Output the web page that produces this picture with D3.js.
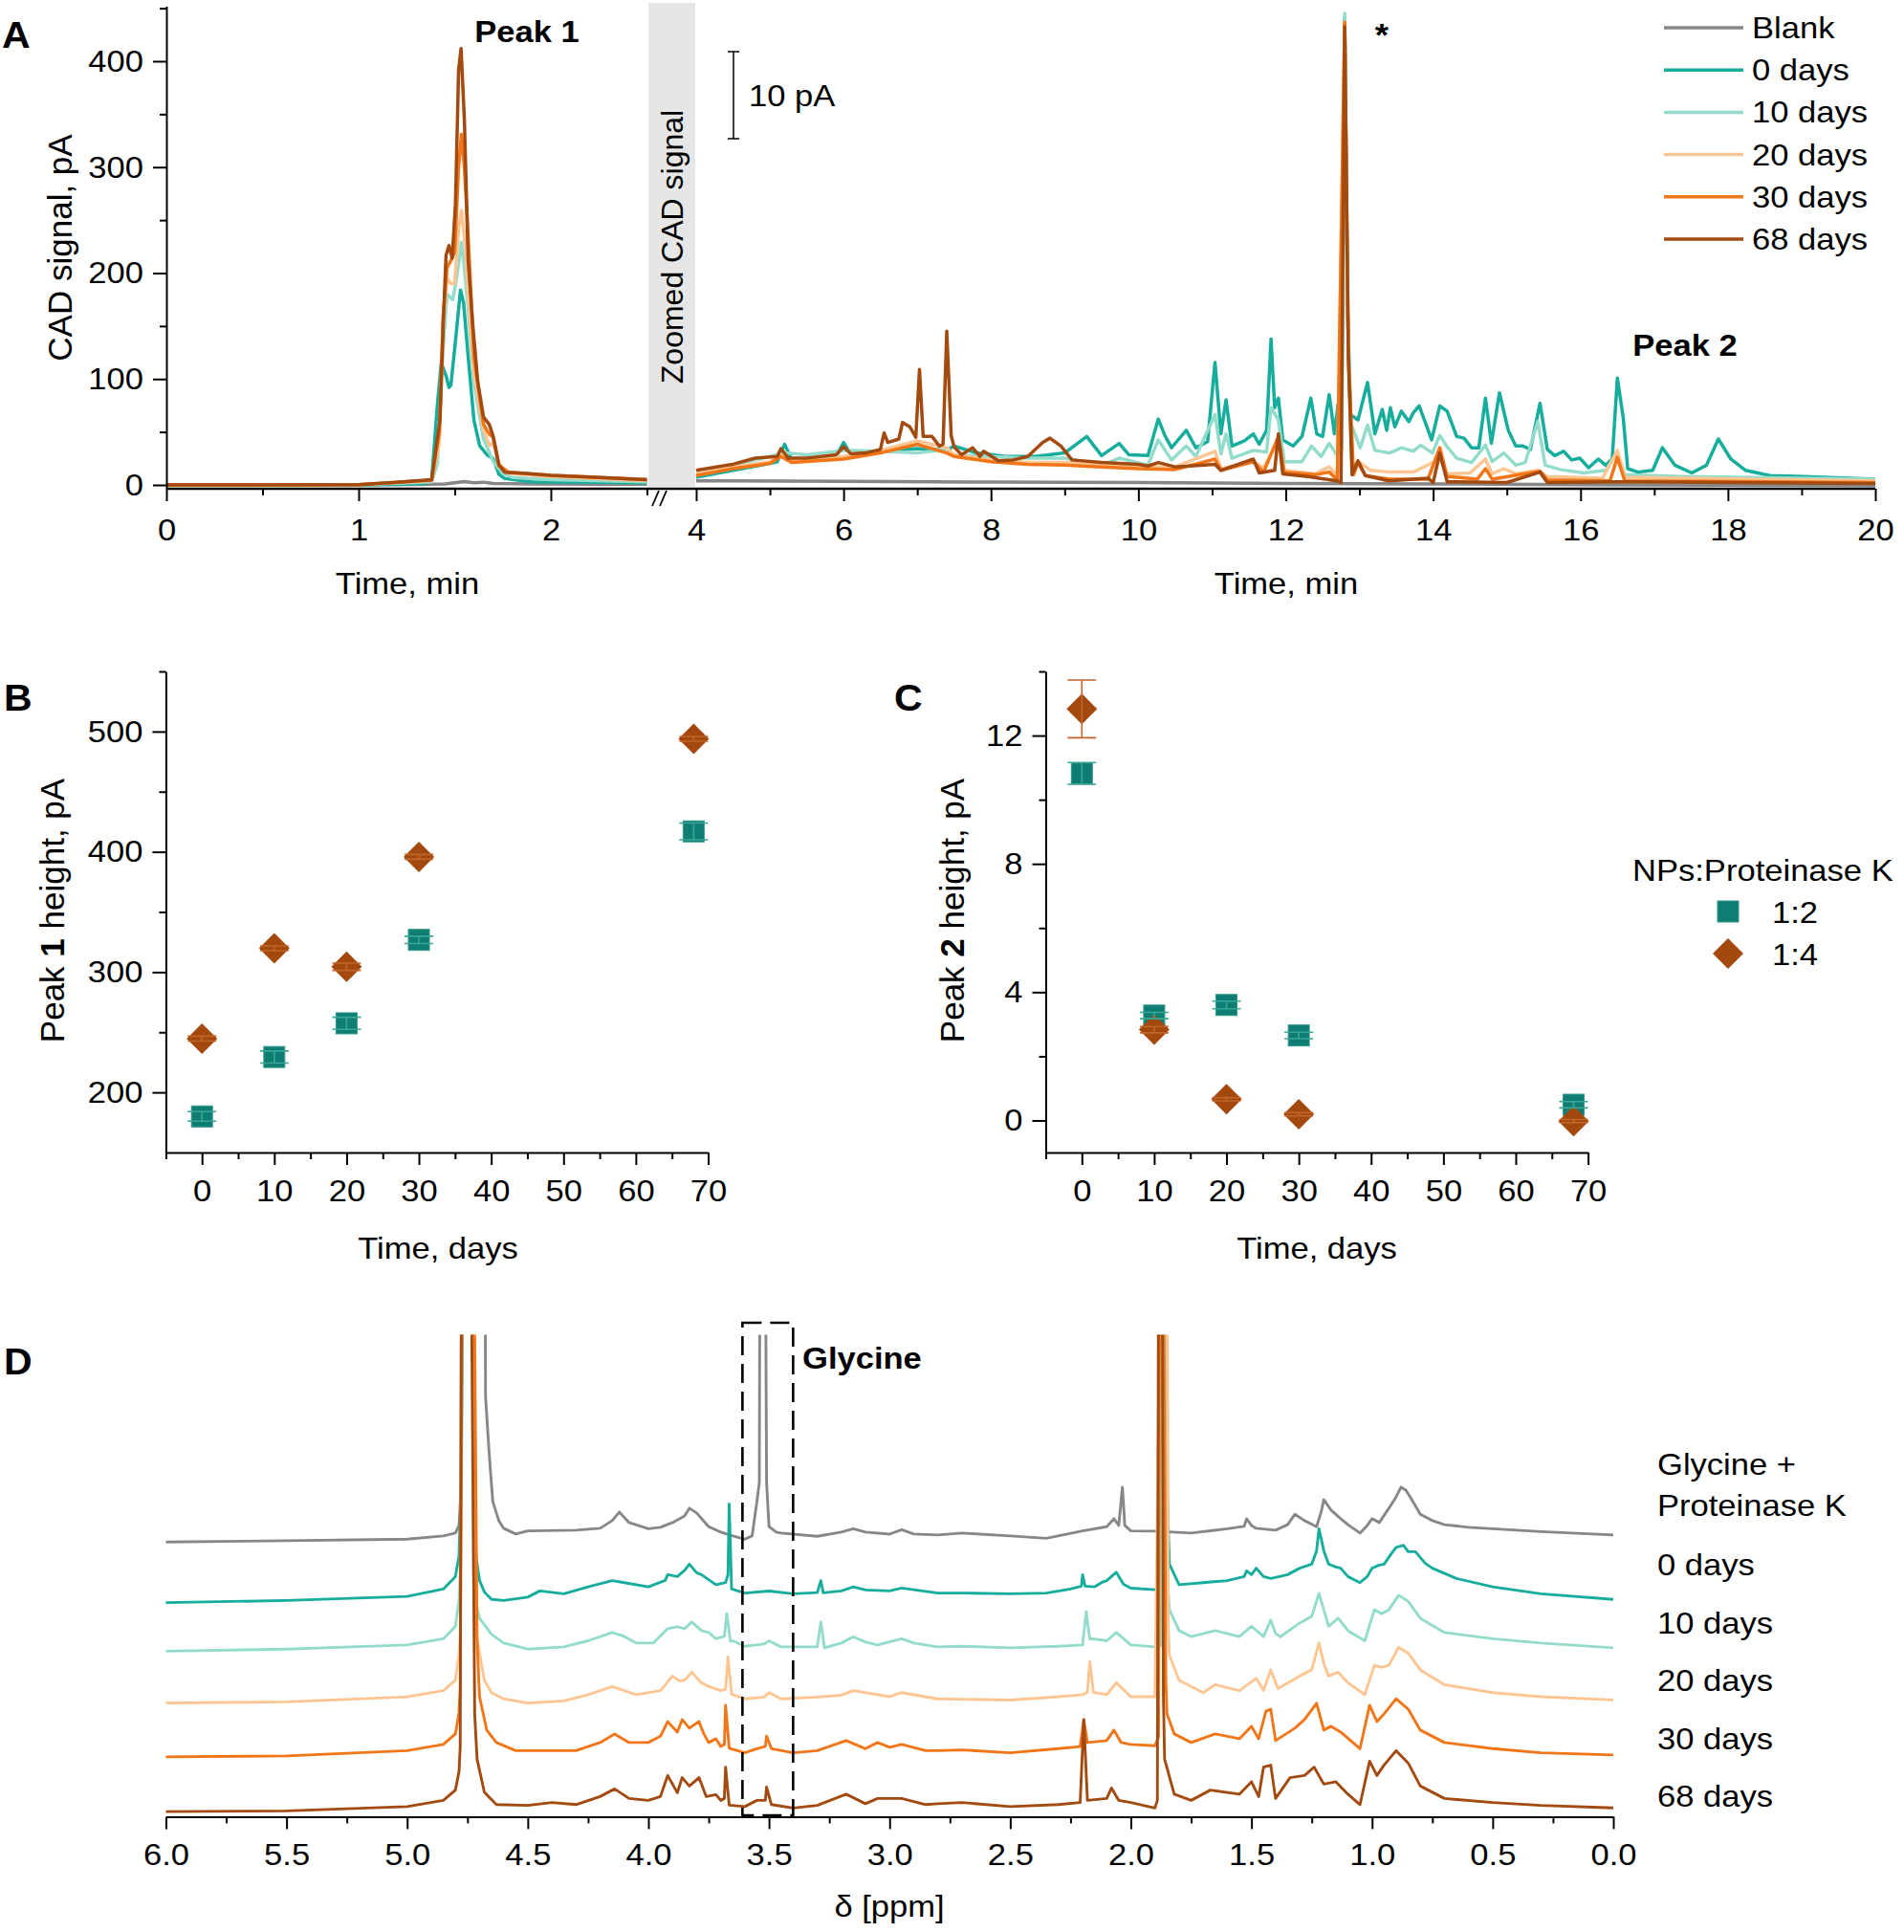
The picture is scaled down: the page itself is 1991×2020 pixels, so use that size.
<!DOCTYPE html>
<html>
<head>
<meta charset="utf-8">
<script src="https://cdn.jsdelivr.net/npm/d3@7"></script>
<style>body{margin:0;background:#fff}</style>
</head>
<body>
<script>
// ---------------- data ----------------
// panel A: CAD chromatograms, [time (min), signal]
// early part in pA, late part in "zoomed" pA (see 10 pA scale bar)
var cadNames = ["Blank", "0 days", "10 days", "20 days", "30 days", "68 days"];

var cadBlankEarly = [[0,0.2],[0.5,0.2],[1.0,0.3],[1.3,0.5],[1.45,1.0],[1.55,3.2],[1.6,2.0],[1.65,2.6],[1.7,1.4],[1.9,1.0],[2.2,0.8],[2.5,0.7]];
var cad0dEarly = [[0,0],[1.0,0],[1.2,0.5],[1.35,1.5],[1.38,5],[1.41,76],[1.43,115],[1.455,103],[1.47,92],[1.48,94],[1.504,136],[1.53,184],[1.546,172],[1.57,121],[1.6,61],[1.63,37],[1.67,28],[1.7,25],[1.73,10],[1.76,6],[1.9,3],[2.2,2.5],[2.5,2]];
var cad10dEarly = [[0,0],[1.0,0.2],[1.2,1.5],[1.38,3],[1.41,20],[1.44,130],[1.46,180],[1.49,175],[1.51,195],[1.535,229],[1.55,205],[1.57,166],[1.6,97],[1.65,43],[1.68,31],[1.7,22],[1.75,11],[1.8,7],[2.0,5],[2.5,3]];
var cad20dEarly = [[0,0],[1.0,0.3],[1.2,2],[1.38,4],[1.42,40],[1.44,150],[1.46,195],[1.48,190],[1.5,190],[1.52,241],[1.535,259],[1.55,235],[1.57,181],[1.6,106],[1.65,52],[1.68,37],[1.7,40],[1.73,20],[1.78,11],[2.0,8],[2.5,4]];
var cad30dEarly = [[0,0],[1.0,0.3],[1.2,2.5],[1.38,4.5],[1.42,50],[1.44,160],[1.46,205],[1.48,212],[1.5,220],[1.52,300],[1.535,331],[1.55,300],[1.57,235],[1.6,121],[1.65,57],[1.68,48],[1.7,45],[1.73,18],[1.78,12],[2.0,9],[2.5,5]];
var cad68dEarly = [[0,0],[1.0,0.3],[1.2,2.5],[1.38,5],[1.423,61],[1.44,151],[1.455,217],[1.47,226],[1.487,214],[1.504,266],[1.52,391],[1.533,412],[1.55,346],[1.57,212],[1.594,151],[1.62,97],[1.65,64],[1.68,57],[1.7,46],[1.73,19],[1.76,12],[1.85,11],[2.0,9],[2.26,7],[2.5,5]];

var cadBlankLate = [[4,0.8],[6,0.75],[8,0.65],[10,0.6],[12,0.5],[14,0.45],[16,0.35],[18,0.3],[20,0.25]];
var cad0dLate = [[4,1.2],[4.5,2.0],[5.0,2.8],[5.1,3],[5.2,5],[5.3,3.2],[5.6,3.2],[5.9,3.6],[6.0,5.2],[6.1,3.8],[6.5,4.2],[7.0,4.5],[7.4,4.3],[7.5,4.8],[7.8,4.0],[8.2,3.6],[8.6,3.6],[9.0,4.0],[9.3,5.9],[9.5,3.7],[9.74,5.1],[9.87,3.8],[10.13,3.7],[10.27,7.9],[10.36,6.0],[10.45,4.6],[10.65,6.6],[10.78,4.6],[10.94,5.3],[11.04,14.4],[11.12,6.2],[11.19,10.1],[11.27,4.8],[11.44,5.4],[11.56,6.2],[11.64,5.0],[11.74,6.6],[11.8,17.1],[11.85,9.2],[11.9,10.3],[11.96,5.5],[12.1,4.8],[12.22,5.9],[12.34,10.3],[12.42,6.2],[12.5,5.9],[12.59,10.7],[12.66,6.2],[12.71,9.6],[12.76,8],[12.8,54],[12.84,20],[12.88,8.4],[12.98,7.8],[13.11,12.1],[13.21,6.2],[13.31,9.0],[13.37,6.6],[13.42,9.2],[13.48,7.0],[13.57,8.8],[13.67,7.6],[13.73,8.6],[13.81,9.4],[13.89,7.6],[13.98,5.5],[14.09,9.4],[14.19,8.8],[14.32,5.9],[14.42,5.7],[14.52,4.6],[14.62,4.6],[14.71,10.3],[14.79,5.1],[14.9,10.9],[15.02,6.6],[15.12,4.8],[15.22,4.8],[15.32,4.4],[15.45,9.7],[15.55,4.4],[15.65,3.7],[15.77,4.2],[15.88,3.2],[15.99,3.4],[16.11,2.3],[16.24,3.3],[16.34,2.6],[16.43,3.3],[16.5,12.6],[16.58,8],[16.64,2.2],[16.78,1.8],[16.98,2.0],[17.11,4.6],[17.28,2.6],[17.51,1.7],[17.71,2.6],[17.87,5.6],[18.04,3.3],[18.24,2.0],[18.57,1.4],[19.03,1.3],[20,1.0]];
var cad10dLate = [[4,1.5],[4.5,2.6],[5.0,3.6],[5.2,4.0],[5.5,3.8],[6.0,4.3],[6.5,4.2],[7.0,4.0],[7.4,4.4],[7.5,3.8],[8.0,3.6],[8.5,3.4],[9.0,3.4],[9.5,2.6],[9.74,3.4],[10.13,2.6],[10.27,5.5],[10.45,3.2],[10.65,4.8],[10.78,3.6],[11.04,8.4],[11.12,3.9],[11.19,6.2],[11.27,3.4],[11.56,4.3],[11.74,4.1],[11.8,9.2],[11.9,7.8],[11.98,3.0],[12.22,3.0],[12.35,4.8],[12.48,3.6],[12.59,5.1],[12.69,3.8],[12.76,4.5],[12.8,54.5],[12.84,20],[12.88,7.5],[13.01,4.6],[13.11,7.2],[13.21,4.3],[13.41,4.0],[13.57,4.6],[13.73,4.2],[13.83,4.9],[13.99,4.0],[14.09,6.0],[14.19,4.7],[14.32,3.4],[14.52,2.9],[14.71,4.9],[14.8,3.0],[14.96,4.0],[15.12,2.6],[15.25,2.9],[15.42,7.6],[15.52,2.6],[15.72,2.1],[16.04,1.7],[16.34,2.0],[16.5,4.0],[16.6,1.5],[17.37,1.3],[20,1.0]];
var cad20dLate = [[4,1.6],[4.5,2.4],[5.0,3.0],[5.15,3.8],[5.3,3.1],[6.0,3.6],[6.5,4.3],[7.0,5.4],[7.4,4.6],[7.5,3.8],[8.0,3.2],[8.5,2.9],[9.0,2.9],[9.5,2.6],[10.0,2.4],[10.5,2.4],[11.04,4.2],[11.12,2.2],[11.56,3.0],[11.7,2.3],[11.9,5.5],[11.98,2.0],[12.4,1.6],[12.59,2.4],[12.7,1.4],[12.8,53.5],[12.85,15],[12.9,2.6],[13.01,2.9],[13.15,2.0],[13.41,1.8],[13.73,1.8],[14.09,3.3],[14.19,1.6],[14.5,1.7],[14.71,3.3],[14.8,1.6],[14.96,2.2],[15.12,1.6],[15.42,2.0],[15.55,1.3],[16.3,1.1],[16.5,4.3],[16.6,1.2],[20,0.8]];
var cad30dLate = [[4,1.4],[4.5,2.2],[5.0,2.8],[5.15,3.6],[5.3,2.9],[6.0,3.3],[6.5,4.0],[7.0,5.0],[7.4,4.0],[7.5,3.6],[8.0,3.0],[8.5,2.7],[9.0,2.6],[9.5,2.4],[10.0,2.2],[10.5,2.1],[11.04,3.3],[11.12,2.0],[11.56,3.0],[11.7,1.8],[11.9,5.9],[11.98,1.8],[12.4,1.5],[12.59,1.8],[12.7,0.9],[12.8,53.5],[12.85,15],[12.92,1.5],[12.98,2.9],[13.08,1.4],[13.41,1.0],[13.93,1.0],[14.09,4.6],[14.19,1.3],[14.6,1.0],[14.71,2.2],[14.8,1.0],[15.45,1.9],[15.55,0.9],[16.4,0.8],[16.5,3.5],[16.6,0.8],[20,0.6]];
var cad68dLate = [[4,2.0],[4.5,2.7],[4.8,3.4],[5.1,3.6],[5.15,4.5],[5.25,3.4],[5.5,3.4],[5.9,3.8],[6.0,4.7],[6.1,3.9],[6.3,4.0],[6.5,4.4],[6.55,6.3],[6.6,5.2],[6.75,5.6],[6.8,7.5],[6.9,7.0],[6.98,5.8],[7.03,13.6],[7.08,5.9],[7.2,5.9],[7.3,4.8],[7.35,5.0],[7.4,18],[7.46,6],[7.5,4.7],[7.6,3.8],[7.75,4.6],[7.85,3.6],[7.9,4.2],[8.1,3.1],[8.3,3.2],[8.5,3.6],[8.7,5.2],[8.8,5.7],[8.95,4.8],[9.1,3.2],[9.5,2.9],[10.0,2.7],[10.13,2.5],[10.27,2.9],[10.5,2.4],[11.04,2.7],[11.12,2.0],[11.56,3.3],[11.64,1.7],[11.85,2.0],[11.9,6.2],[11.96,1.6],[12.3,1.3],[12.69,0.8],[12.75,0.6],[12.8,53],[12.85,15],[12.9,1.5],[12.98,3.1],[13.08,1.4],[13.4,0.8],[13.93,1.1],[14.0,0.6],[14.09,4.0],[14.19,0.7],[15.0,0.6],[15.45,1.8],[15.55,0.6],[16.5,0.7],[20,0.5]];

// panels B and C: peak heights vs time
var days = [0, 10, 20, 30, 68];
var peak1Ratio12 = [180, 229.4, 257.4, 326.8, 417];
var peak1Ratio12Err = [4, 5, 5, 3, 7];
var peak1Ratio14 = [244.7, 319.8, 304.4, 395.8, 493.9];
var peak1Ratio14Err = [2, 2, 3, 2, 2];
var peak2Ratio12 = [10.82, 3.27, 3.6, 2.65, 0.49];
var peak2Ratio12Err = [0.34, 0.1, 0.12, 0.1, 0.1];
var peak2Ratio14 = [12.83, 2.83, 0.66, 0.19, -0.02];
var peak2Ratio14Err = [0.9, 0.1, 0.05, 0.05, 0.05];
var ratioNames = ["1:2", "1:4"];

// panel D: 1H NMR spectra, [ppm, intensity above own baseline (a.u.)]
var nmrNames = ["0 days", "10 days", "20 days", "30 days", "68 days"];
var nmrBlank = [[6.0,-2.4],[5.5,-1],[5.0,0.6],[4.85,4],[4.8,7],[4.785,15],[4.775,60],[4.77,600],[4.68,600],[4.675,150],[4.66,90],[4.645,40],[4.62,20],[4.6,12],[4.55,6],[4.5,9.3],[4.3,10],[4.2,12],[4.15,20],[4.12,29],[4.08,18],[4.0,11.5],[3.95,13],[3.9,18],[3.85,25],[3.83,33],[3.8,28],[3.75,13.7],[3.7,8],[3.65,4],[3.6,0.6],[3.57,4],[3.55,40],[3.54,60],[3.535,600],[3.52,600],[3.51,60],[3.5,13.7],[3.47,8],[3.45,7],[3.3,3.7],[3.2,8],[3.15,11.5],[3.1,8],[3.0,5.9],[2.95,10.6],[2.9,6],[2.8,5],[2.7,7],[2.5,4],[2.35,1.5],[2.2,9.3],[2.1,13.7],[2.07,22],[2.05,15],[2.035,55],[2.025,15],[2.0,9.3],[1.9,9],[1.75,7],[1.6,11.5],[1.53,14],[1.52,22],[1.5,15],[1.48,12],[1.4,10],[1.35,15.8],[1.32,26.7],[1.28,20],[1.23,13.7],[1.21,30],[1.2,42],[1.17,31],[1.13,22],[1.1,15.8],[1.05,7],[1.02,15],[1.0,22],[0.97,18],[0.93,33],[0.9,45],[0.88,55],[0.86,52],[0.84,44],[0.8,26.7],[0.75,20],[0.7,15.8],[0.6,13],[0.5,11.5],[0.3,8.5],[0.0,5]];
var nmr0d = [[6.0,-9.2],[5.5,-7],[5.0,-2.7],[4.85,5],[4.8,18],[4.785,40],[4.775,120],[4.765,600],[4.735,600],[4.725,120],[4.715,40],[4.7,14],[4.68,2],[4.65,-5.8],[4.6,-7],[4.5,-3.5],[4.45,3],[4.35,0],[4.25,7.3],[4.15,13.8],[4.1,11.7],[4.0,7.3],[3.93,14],[3.92,20],[3.88,18],[3.85,24.6],[3.83,31],[3.8,22],[3.78,20],[3.72,9.5],[3.68,11.7],[3.67,20],[3.665,94],[3.655,5],[3.6,0.8],[3.5,2.9],[3.4,0],[3.3,1.3],[3.285,13.8],[3.275,1],[3.2,3],[3.15,7.3],[3.1,4],[3.0,3],[2.95,6],[2.8,0.8],[2.7,0.8],[2.5,0],[2.35,0.8],[2.25,5],[2.205,8],[2.2,20],[2.19,8],[2.15,7.3],[2.12,12],[2.1,13.8],[2.06,22.5],[2.03,10],[2.0,5.9],[1.9,4.3],[1.87,4],[1.855,20],[1.85,118],[1.845,70],[1.84,31],[1.8,9.5],[1.7,11.7],[1.6,13.8],[1.53,18],[1.52,24],[1.5,20],[1.48,26.8],[1.45,18],[1.42,16],[1.35,20],[1.3,26.8],[1.25,31],[1.23,45],[1.22,68],[1.2,45],[1.18,31],[1.15,28],[1.13,26.8],[1.1,18],[1.05,11.7],[1.02,18],[1.0,26.8],[0.97,30],[0.95,31],[0.92,42],[0.9,48.5],[0.87,50.7],[0.85,44],[0.82,44],[0.78,32],[0.75,26.8],[0.65,16],[0.5,7.3],[0.3,0],[0.0,-5.8]];
var nmr10d = [[6.0,-3.5],[5.5,-1.3],[5.0,3],[4.85,9.5],[4.8,22.5],[4.785,50],[4.78,79],[4.77,600],[4.735,600],[4.725,80],[4.72,53],[4.7,31],[4.65,14],[4.6,5],[4.5,-1.3],[4.35,1],[4.25,7.4],[4.15,16],[4.1,12],[4.05,5],[3.98,5],[3.92,20],[3.88,22],[3.85,20],[3.82,27],[3.78,18],[3.75,16],[3.72,9.5],[3.685,12],[3.675,35.6],[3.66,7],[3.65,7.4],[3.6,1.7],[3.52,4],[3.5,7.4],[3.45,1],[3.3,1],[3.285,27],[3.27,0],[3.2,5],[3.15,11.7],[3.1,6],[3.05,3],[2.95,9.5],[2.9,5],[2.8,1],[2.7,1.7],[2.5,0],[2.3,1.7],[2.2,3],[2.185,37.7],[2.17,9],[2.16,9.5],[2.1,7.4],[2.06,16],[2.0,3],[1.9,1],[1.875,2],[1.87,600],[1.855,600],[1.85,80],[1.84,40],[1.8,18],[1.75,11.7],[1.65,18],[1.55,11.7],[1.5,22.5],[1.45,11.7],[1.42,29],[1.4,15],[1.38,11.7],[1.3,26],[1.25,33],[1.22,57],[1.2,40],[1.18,22.5],[1.14,31],[1.1,18],[1.03,7.4],[0.99,40],[0.96,35.6],[0.93,40],[0.89,55],[0.85,48.6],[0.8,31],[0.7,16],[0.5,9.5],[0.3,5],[0.0,0]];
var nmr20d = [[6.0,-1.2],[5.5,0],[5.0,5.3],[4.85,11.8],[4.8,22.7],[4.785,50],[4.78,70],[4.77,600],[4.73,600],[4.72,100],[4.71,66],[4.68,22.7],[4.65,9.7],[4.6,3.2],[4.5,-1.2],[4.35,1],[4.25,7.5],[4.15,16],[4.05,7.5],[3.95,11.8],[3.9,27],[3.87,22],[3.85,22.7],[3.82,31],[3.78,20],[3.75,16],[3.7,11.8],[3.68,13],[3.67,47],[3.655,8],[3.65,7.5],[3.6,3.2],[3.52,5],[3.5,9.7],[3.45,3.2],[3.3,5],[3.28,5.4],[3.2,7],[3.15,11.8],[3.0,5.4],[2.95,9.7],[2.8,3.2],[2.5,1.9],[2.3,5.4],[2.2,7.5],[2.18,10],[2.17,42],[2.155,10],[2.1,7.5],[2.06,20],[2.0,5.4],[1.9,5.4],[1.87,600],[1.85,600],[1.845,80],[1.84,48.7],[1.8,22.7],[1.7,9.7],[1.65,18],[1.55,11.8],[1.48,24.6],[1.45,11.8],[1.42,33.5],[1.39,14],[1.3,27],[1.25,33.5],[1.22,61.7],[1.2,40],[1.18,27],[1.14,31],[1.1,20],[1.03,7.5],[0.99,38.3],[0.96,36],[0.93,38.3],[0.89,57],[0.85,51],[0.8,33.5],[0.7,18],[0.5,9.7],[0.3,5.4],[0.0,2]];
var nmr30d = [[6.0,-1],[5.5,0],[5.0,5.5],[4.85,12],[4.8,23],[4.785,45],[4.78,70],[4.77,600],[4.725,600],[4.71,120],[4.7,62],[4.67,27],[4.63,14],[4.55,5.5],[4.4,5.5],[4.3,5.5],[4.2,14],[4.14,23],[4.08,14],[4.0,14],[3.95,20.6],[3.92,35.8],[3.88,25],[3.86,38],[3.83,29],[3.79,36],[3.77,23],[3.75,14],[3.72,18],[3.7,10],[3.685,12],[3.68,53],[3.665,8],[3.6,3.3],[3.55,7.6],[3.515,10],[3.51,20.6],[3.49,7.6],[3.4,3.3],[3.3,5.5],[3.18,16],[3.1,7.6],[3.05,14],[3.0,9],[2.95,12],[2.85,5.5],[2.8,5.5],[2.7,6.3],[2.5,3.3],[2.3,7.6],[2.21,9.8],[2.195,38],[2.18,14],[2.1,16],[2.07,27],[2.04,14],[2.0,12],[1.9,10.6],[1.885,20],[1.88,600],[1.865,600],[1.855,80],[1.85,44],[1.82,23],[1.75,14],[1.65,23],[1.55,18],[1.5,31],[1.47,18],[1.44,46.7],[1.42,48.8],[1.4,16],[1.32,29],[1.28,38],[1.23,55],[1.2,27],[1.17,31],[1.13,25],[1.05,7.6],[1.01,53],[0.98,36],[0.95,44],[0.9,59.7],[0.85,48.8],[0.8,27],[0.7,14],[0.5,7.6],[0.3,3.3],[0.0,1]];
var nmr68d = [[6.0,-1.7],[5.5,-1],[5.0,3.5],[4.85,10],[4.8,20.8],[4.785,40],[4.78,66],[4.775,600],[4.735,600],[4.72,100],[4.71,53],[4.68,18.6],[4.63,5.6],[4.5,4.8],[4.4,7.8],[4.3,5.6],[4.2,14],[4.14,22],[4.08,12],[4.0,10],[3.95,14],[3.92,36],[3.88,18],[3.86,33.8],[3.83,25],[3.79,33.8],[3.76,14],[3.72,16],[3.7,10],[3.685,12],[3.68,44.7],[3.665,5],[3.6,3.5],[3.55,10],[3.515,10],[3.51,23.9],[3.49,5.6],[3.4,2],[3.3,4.8],[3.18,16.5],[3.1,6.5],[3.05,12],[2.95,12],[2.85,5.6],[2.8,6.5],[2.7,7.8],[2.5,3.5],[2.3,5.6],[2.21,7.8],[2.195,94.5],[2.18,10],[2.1,12],[2.08,23],[2.05,10],[2.0,7.8],[1.9,2],[1.89,10],[1.885,600],[1.87,600],[1.865,120],[1.86,53],[1.82,16.5],[1.75,10],[1.67,20.8],[1.55,16.5],[1.5,29.5],[1.47,14],[1.45,44.7],[1.42,46.8],[1.4,12],[1.34,33.8],[1.28,36],[1.24,44.7],[1.2,27],[1.15,29.5],[1.1,16.5],[1.05,5.6],[1.01,51],[0.98,36],[0.95,47],[0.9,62],[0.85,49],[0.8,25],[0.7,12],[0.5,7.8],[0.3,4.8],[0.0,2.2]];
var glycineRange = [3.61, 3.40];

// ---------------- styles ----------------
var colors = ["#878787", "#17ad9d", "#93dccb", "#fdc592", "#f27518", "#a24a10"];
var squareColor = "#0f7d73", diamondColor = "#a3490e";
var FONT = "'Liberation Sans', Arial, Helvetica, sans-serif";
var SX = 1.08;   // text in the figure is slightly wide

var svg = d3.select("body").append("svg")
    .attr("width", 1991).attr("height", 2020)
    .style("background", "#fff");

function label(g, x, y, s, o) {
  o = o || {};
  return g.append("text")
      .attr("transform", "translate(" + x + "," + y + ")" + (o.rotate ? " rotate(" + o.rotate + ")" : " scale(" + SX + ",1)"))
      .attr("font-family", FONT)
      .attr("font-size", o.size || 32)
      .attr("font-weight", o.bold ? "bold" : null)
      .attr("text-anchor", o.anchor || "start")
      .text(s);
}

function styleAxis(a) {
  a.selectAll("line, path").attr("stroke", "#000").attr("stroke-width", 2);
  a.selectAll("text").attr("font-family", FONT).attr("font-size", 32).attr("fill", "#000");
}

function bottomAxis(scale, y, major, minor, pad, fmt, keepDomain) {
  var a = svg.append("g").attr("transform", "translate(0," + y + ")")
      .call(d3.axisBottom(scale).tickValues(major).tickSize(13).tickPadding(pad).tickSizeOuter(0).tickFormat(fmt));
  if (!keepDomain) a.select(".domain").remove();
  styleAxis(a);
  a.selectAll("text").attr("transform", "scale(" + SX + ",1)");
  var m = svg.append("g").attr("transform", "translate(0," + y + ")")
      .call(d3.axisBottom(scale).tickValues(minor).tickSize(7).tickFormat(""));
  m.select(".domain").remove();
  styleAxis(m);
}

function leftAxis(scale, x, major, minor) {
  var a = svg.append("g").attr("transform", "translate(" + x + ",0)")
      .call(d3.axisLeft(scale).tickValues(major).tickSize(14).tickSizeOuter(0));
  styleAxis(a);
  a.selectAll("text").attr("x", -24 / SX).attr("transform", "scale(" + SX + ",1)");
  var m = svg.append("g").attr("transform", "translate(" + x + ",0)")
      .call(d3.axisLeft(scale).tickValues(minor).tickSize(7).tickFormat(""));
  m.select(".domain").remove();
  styleAxis(m);
}

// ---------------- panel A ----------------
var xEarly = d3.scaleLinear().domain([0, 2.5]).range([174, 676.5]);
var xLate = d3.scaleLinear().domain([4, 20]).range([728, 1961]);
var yA = d3.scaleLinear().domain([-3.6, 452]).range([511, 6.4]);
var yZoom = d3.scaleLinear().domain([0, 10]).range([510, 419]);

svg.append("rect").attr("x", 678).attr("y", 3).attr("width", 49).attr("height", 506).attr("fill", "#e6e6e6");
label(svg, 714, 258, "Zoomed CAD signal", {rotate: -90, anchor: "middle", size: 32});

var cadEarly = [cadBlankEarly, cad0dEarly, cad10dEarly, cad20dEarly, cad30dEarly, cad68dEarly];
var cadLate = [cadBlankLate, cad0dLate, cad10dLate, cad20dLate, cad30dLate, cad68dLate];
var lineEarly = d3.line().x(function(d) { return xEarly(d[0]); }).y(function(d) { return yA(d[1]); });
var lineLate = d3.line().x(function(d) { return xLate(d[0]); }).y(function(d) { return yZoom(d[1]); });

var gA = svg.append("g").attr("fill", "none").attr("stroke-width", 3.5).attr("stroke-linejoin", "round");
cadNames.forEach(function(n, i) {
  gA.append("path").attr("d", lineEarly(cadEarly[i])).attr("stroke", colors[i]);
  gA.append("path").attr("d", lineLate(cadLate[i])).attr("stroke", colors[i]);
});

// axes
svg.append("line").attr("x1", 174).attr("x2", 1961).attr("y1", 511).attr("y2", 511)
    .attr("stroke", "#000").attr("stroke-width", 2.5);
bottomAxis(xEarly, 511, [0, 1, 2], [0.5, 1.5, 2.5], 18, d3.format("d"));
bottomAxis(xLate, 511, d3.range(4, 21, 2), d3.range(5, 20, 2), 18, d3.format("d"));
leftAxis(yA, 174, [0, 100, 200, 300, 400], [50, 150, 250, 350, 450]);
// axis break
svg.append("path").attr("d", "M682,529L689,513M690,529L697,513").attr("stroke", "#000").attr("stroke-width", 1.8);

label(svg, 426, 621, "Time, min", {anchor: "middle"});
label(svg, 1345, 621, "Time, min", {anchor: "middle"});
label(svg, 75, 259, "CAD signal, pA", {rotate: -90, anchor: "middle", size: 35});
label(svg, 2, 50, "A", {bold: true, size: 38});
label(svg, 551, 44, "Peak 1", {bold: true, anchor: "middle"});
label(svg, 1762, 372, "Peak 2", {bold: true, anchor: "middle"});
label(svg, 1445, 48, "*", {bold: true, anchor: "middle", size: 34});

// 10 pA scale bar
var barTop = 54, barLen = yZoom(0) - yZoom(10);
svg.append("path")
    .attr("d", "M761," + barTop + "H773M767," + barTop + "V" + (barTop + barLen) + "M761," + (barTop + barLen) + "H773")
    .attr("stroke", "#000").attr("stroke-width", 1.5).attr("fill", "none");
label(svg, 783, 111, "10 pA");

// legend
cadNames.forEach(function(n, i) {
  var cy = 29 + i * 44.2;
  svg.append("line").attr("x1", 1740).attr("x2", 1823).attr("y1", cy).attr("y2", cy)
      .attr("stroke", colors[i]).attr("stroke-width", 3.5);
  label(svg, 1832, cy + 11, n);
});

// ---------------- panels B and C ----------------
function diamondPath(r) { return "M0," + (-r) + "L" + r + ",0L0," + r + "L" + (-r) + ",0Z"; }

function scatterPanel(x, y, v12, e12, v14, e14) {
  var g = svg.append("g");
  days.forEach(function(d, i) {
    g.append("rect").attr("x", x(d) - 11).attr("y", y(v12[i]) - 11).attr("width", 22).attr("height", 22)
        .attr("fill", squareColor).attr("stroke", "#2f9a8c").attr("stroke-width", 1);
    g.append("path").attr("d", diamondPath(16)).attr("transform", "translate(" + x(d) + "," + y(v14[i]) + ")")
        .attr("fill", diamondColor);
  });
  [[v12, e12, "#3aa595"], [v14, e14, "#c0652b"]].forEach(function(s) {
    days.forEach(function(d, i) {
      var y0 = y(s[0][i] - s[1][i]), y1 = y(s[0][i] + s[1][i]), cx = x(d);
      g.append("path").attr("d", "M" + cx + "," + y0 + "V" + y1 + "M" + (cx - 15) + "," + y0 + "H" + (cx + 15) + "M" + (cx - 15) + "," + y1 + "H" + (cx + 15))
          .attr("stroke", s[2]).attr("stroke-width", 1.6).attr("fill", "none");
    });
  });
}

var xB = d3.scaleLinear().domain([-5, 70]).range([173.4, 740.5]);
var yB = d3.scaleLinear().domain([150, 550]).range([1205, 702]);
bottomAxis(xB, 1205, d3.range(0, 71, 10), d3.range(-5, 70, 10), 15, d3.format("d"), true);
leftAxis(yB, 173.4, [200, 300, 400, 500], [250, 350, 450, 550]);
scatterPanel(xB, yB, peak1Ratio12, peak1Ratio12Err, peak1Ratio14, peak1Ratio14Err);
label(svg, 458, 1316, "Time, days", {anchor: "middle"});
var tB = svg.append("text").attr("transform", "translate(67,952) rotate(-90)")
    .attr("font-family", FONT).attr("font-size", 35).attr("text-anchor", "middle");
tB.append("tspan").text("Peak ");
tB.append("tspan").attr("font-weight", "bold").text("1");
tB.append("tspan").text(" height, pA");
label(svg, 4, 743, "B", {bold: true, size: 38});

var xC = d3.scaleLinear().domain([-5, 70]).range([1093.5, 1660.6]);
var yC = d3.scaleLinear().domain([-1, 14]).range([1205, 702]);
bottomAxis(xC, 1205, d3.range(0, 71, 10), d3.range(-5, 70, 10), 15, d3.format("d"), true);
leftAxis(yC, 1093.5, [0, 4, 8, 12], [2, 6, 10, 14]);
scatterPanel(xC, yC, peak2Ratio12, peak2Ratio12Err, peak2Ratio14, peak2Ratio14Err);
label(svg, 1377, 1316, "Time, days", {anchor: "middle"});
var tC = svg.append("text").attr("transform", "translate(1008,952) rotate(-90)")
    .attr("font-family", FONT).attr("font-size", 35).attr("text-anchor", "middle");
tC.append("tspan").text("Peak ");
tC.append("tspan").attr("font-weight", "bold").text("2");
tC.append("tspan").text(" height, pA");
label(svg, 935, 743, "C", {bold: true, size: 38});

// legend for B/C
label(svg, 1707, 921, "NPs:Proteinase K");
svg.append("rect").attr("x", 1796).attr("y", 942).attr("width", 22).attr("height", 22)
    .attr("fill", squareColor).attr("stroke", "#2f9a8c").attr("stroke-width", 1);
label(svg, 1853, 965, ratioNames[0]);
svg.append("path").attr("d", diamondPath(16)).attr("transform", "translate(1807,997)").attr("fill", diamondColor);
label(svg, 1853, 1009, ratioNames[1]);

// ---------------- panel D ----------------
var xD = d3.scaleLinear().domain([6, 0]).range([173.5, 1687]);
var yD = d3.scaleLinear().domain([0, 500]).range([1899.4, 1399.4]);
var stackStep = 56.5, stackBase = 7;

svg.append("clipPath").attr("id", "clipD").append("rect")
    .attr("x", 160).attr("y", 1395.5).attr("width", 1540).attr("height", 505);

var spectra = [nmrBlank, nmr0d, nmr10d, nmr20d, nmr30d, nmr68d];
var gD = svg.append("g").attr("clip-path", "url(#clipD)").attr("fill", "none")
    .attr("stroke-width", 2.9).attr("stroke-linejoin", "round");
spectra.forEach(function(s, i) {
  var off = stackBase + (spectra.length - 1 - i) * stackStep;
  var line = d3.line().x(function(d) { return xD(d[0]); }).y(function(d) { return yD(off + d[1]); });
  gD.append("path").attr("d", line(s)).attr("stroke", colors[i]);
});

// glycine box
svg.append("rect")
    .attr("x", xD(glycineRange[0])).attr("y", 1383)
    .attr("width", xD(glycineRange[1]) - xD(glycineRange[0])).attr("height", 1898 - 1383)
    .attr("fill", "none").attr("stroke", "#000").attr("stroke-width", 2.6).attr("stroke-dasharray", "20,9");
label(svg, 839, 1431, "Glycine", {bold: true});

bottomAxis(xD, 1899.4, d3.range(0, 13).map(function(k) { return k * 0.5; }),
    d3.range(0, 12).map(function(k) { return 0.25 + k * 0.5; }), 15, d3.format(".1f"), true);
label(svg, 930, 2004, "δ [ppm]", {anchor: "middle"});
label(svg, 4, 1437, "D", {bold: true, size: 38});

label(svg, 1733, 1542, "Glycine +");
label(svg, 1733, 1585, "Proteinase K");
nmrNames.forEach(function(n, i) {
  label(svg, 1733, 1647 + i * 60.5, n);
});
</script>
</body>
</html>
